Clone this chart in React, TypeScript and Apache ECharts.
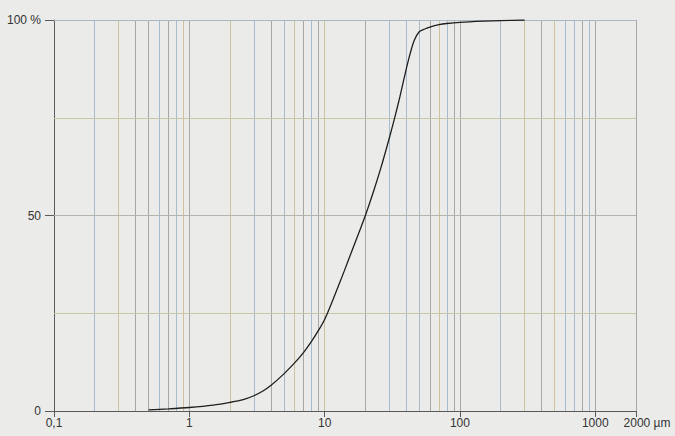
import React, { useEffect, useRef } from "react";
import * as echarts from "echarts";

// Particle size (µm) and cumulative passing (%)
const sizes = [0.5, 0.7, 1, 1.5, 2, 2.5, 3, 3.5, 4, 5, 6, 7, 8, 9, 10, 11.5, 14, 16, 18, 20, 23, 26, 30, 33, 36, 40, 43, 46, 50, 55, 60, 70, 80, 100, 150, 200, 300];
const passing = [0.3, 0.55, 0.9, 1.5, 2.2, 2.9, 3.9, 5.1, 6.5, 9.5, 12.3, 15.0, 17.8, 20.6, 23.4, 28.4, 35.9, 41.2, 45.8, 50, 56.2, 62.1, 69.7, 75.1, 80.4, 87.3, 91.6, 94.8, 97, 97.7, 98.2, 98.8, 99.1, 99.4, 99.7, 99.85, 100];

// Vertical reference lines (µm)
const gridSizes = [0.2, 0.3, 0.4, 0.5, 0.6, 0.7, 0.8, 0.9, 1, 2, 3, 4, 5, 6, 7, 8, 9, 10, 20, 30, 40, 50, 60, 70, 80, 90, 100, 200, 300, 400, 500, 600, 700, 800, 900, 1000, 2000];
// Horizontal reference lines (%)
const gridPercents = [25, 50, 75, 100];

// Tick labels
const xTickValues = [0.1, 1, 10, 100, 1000, 2000];

// styles
const BLUE = "#a6bccd";
const BEIGE = "#cfc09e";
const GRAY = "#a8a8a8";
const vTones = [BLUE, BEIGE, GRAY, GRAY, BLUE, GRAY, BLUE, BEIGE, GRAY, BEIGE, BLUE, GRAY, BLUE, BEIGE, GRAY, BLUE, GRAY, BEIGE, GRAY, BLUE, BLUE, BLUE, GRAY, BEIGE, BLUE, GRAY, GRAY, BLUE, BEIGE, GRAY, BEIGE, BLUE, BLUE, GRAY, BLUE, GRAY, GRAY];
const hTones = ["#c9c6a4", "#b4b4ac", "#c9c6a4", "#a9b9c6"];

export default function App() {
  const ref = useRef<HTMLDivElement>(null);
  useEffect(() => {
    if (!ref.current) return;
    const chart = echarts.init(ref.current, null, { renderer: "svg" });
    const font = "Liberation Sans";
    const markData: any[] = [];
    gridSizes.forEach((v, i) => {
      markData.push({ xAxis: v, lineStyle: { color: vTones[i], width: 1, type: "solid" } });
    });
    gridPercents.forEach((v, i) => {
      markData.push({ yAxis: v, lineStyle: { color: hTones[i], width: 1, type: "solid" } });
    });
    chart.setOption({
      animation: false,
      backgroundColor: "#ebebe9",
      grid: { left: 54, right: 39, top: 20, bottom: 25, containLabel: false },
      xAxis: {
        type: "log",
        logBase: 10,
        min: 0.1,
        max: 2000,
        axisLine: { show: true, lineStyle: { color: "#5a5a5a", width: 1 } },
        axisTick: { show: true, length: 6, customValues: xTickValues, lineStyle: { color: "#5a5a5a" } },
        minorTick: { show: false },
        splitLine: { show: false },
        axisLabel: {
          customValues: xTickValues,
          margin: 6,
          color: "#333",
          fontFamily: font,
          fontSize: 12,
          formatter: (v: number) => {
            if (v === 2000) return "{p|}2000 µm";
            return String(v).replace(".", ",");
          },
          rich: { p: { width: 22 } },
        },
      },
      yAxis: {
        type: "value",
        min: 0,
        max: 100,
        interval: 50,
        axisLine: { show: true, lineStyle: { color: "#5a5a5a", width: 1 } },
        axisTick: { show: true, length: 9, lineStyle: { color: "#5a5a5a" } },
        splitLine: { show: false },
        axisLabel: {
          margin: 13,
          color: "#333",
          fontFamily: font,
          fontSize: 12,
          formatter: (v: number) => (v === 100 ? "100 %" : String(v)),
        },
      },
      series: [
        {
          type: "line",
          data: sizes.map((s, i) => [s, passing[i]]),
          smooth: 0.3,
          showSymbol: false,
          symbol: "none",
          lineStyle: { color: "#1e1e1e", width: 1.3 },
          z: 5,
          markLine: {
            silent: true,
            symbol: ["none", "none"],
            label: { show: false },
            z: 1,
            data: markData,
          },
        },
      ],
    });
    return () => chart.dispose();
  }, []);
  return (
    <div
      ref={ref}
      style={{ position: "fixed", left: 0, top: 0, width: 675, height: 436 }}
    />
  );
}
